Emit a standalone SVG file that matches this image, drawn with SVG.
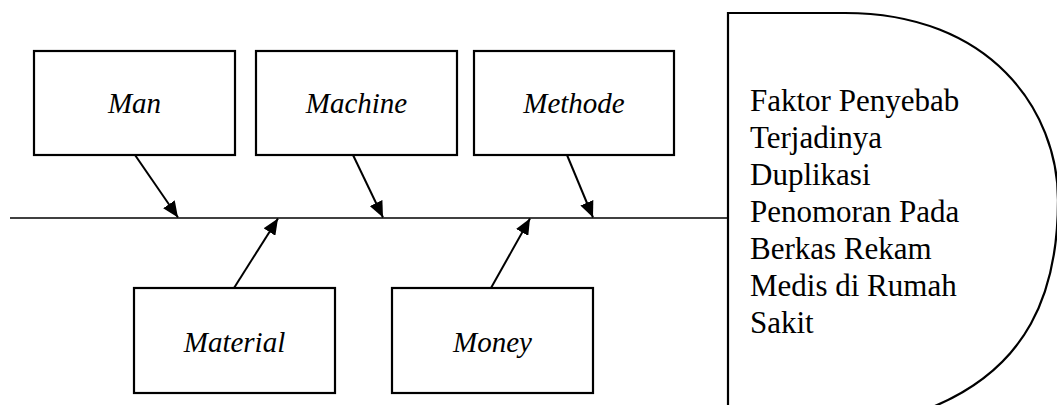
<svg xmlns="http://www.w3.org/2000/svg" width="1057" height="405" viewBox="0 0 1057 405">
<style>
.box{fill:#fff;stroke:#000;stroke-width:2.2}
.lbl{font-family:"Liberation Serif","Times New Roman",serif;font-style:italic;font-size:29px;fill:#000;text-anchor:middle}
.arr{stroke:#000;stroke-width:2;fill:none;marker-end:url(#ah)}
.head{font-family:"Liberation Serif","Times New Roman",serif;font-size:31px;fill:#000}
</style>
<defs>
<marker id="ah" markerUnits="userSpaceOnUse" viewBox="0 0 16 14" refX="16" refY="7" markerWidth="16" markerHeight="14" orient="auto">
<path d="M0,0 L16,7 L0,14 z" fill="#000"/>
</marker>
</defs>
<rect width="1057" height="405" fill="#fff"/>
<g id="effect">
<path d="M728,405 L728,13 L845,13 C990,13 1058,110 1058,200 C1058,290 1030,370 925,410" fill="none" stroke="#000" stroke-width="2.2"/>
<text class="head"><tspan x="750" y="111">Faktor Penyebab</tspan><tspan x="750" y="148">Terjadinya</tspan><tspan x="750" y="185">Duplikasi</tspan><tspan x="750" y="222">Penomoran Pada</tspan><tspan x="750" y="259">Berkas Rekam</tspan><tspan x="750" y="296">Medis di Rumah</tspan><tspan x="750" y="333">Sakit</tspan></text>
</g>
<g id="connectors">
<line x1="10" y1="218" x2="728" y2="218" stroke="#000" stroke-width="1.3"/>
<line class="arr" x1="135" y1="155" x2="178" y2="217.5"/>
<line class="arr" x1="353" y1="155" x2="383" y2="217.5"/>
<line class="arr" x1="567" y1="155" x2="593" y2="217.5"/>
<line class="arr" x1="234" y1="288" x2="278" y2="218.5"/>
<line class="arr" x1="491" y1="288" x2="530" y2="218.5"/>
</g>
<g id="man">
<rect class="box" x="34" y="51" width="201" height="104"/>
<text class="lbl" x="134.5" y="113">Man</text>
</g>
<g id="machine">
<rect class="box" x="256" y="51" width="201" height="104"/>
<text class="lbl" x="356.5" y="113">Machine</text>
</g>
<g id="methode">
<rect class="box" x="474" y="51" width="200" height="104"/>
<text class="lbl" x="574" y="113">Methode</text>
</g>
<g id="material">
<rect class="box" x="134" y="288" width="201" height="105"/>
<text class="lbl" x="234.5" y="352">Material</text>
</g>
<g id="money">
<rect class="box" x="392" y="288" width="201" height="105"/>
<text class="lbl" x="492.5" y="352">Money</text>
</g>
</svg>
